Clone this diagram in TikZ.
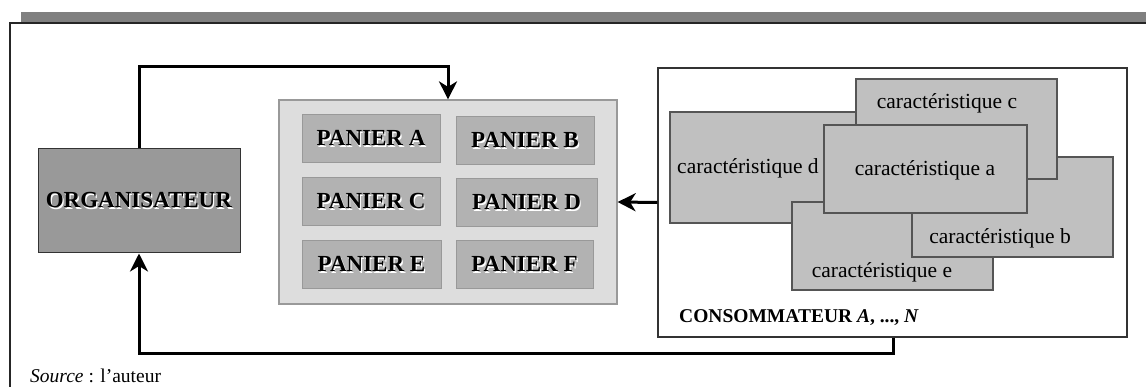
\documentclass[tikz,border=0pt]{standalone}
\usepackage{fontspec}
\setmainfont{Liberation Serif}
\usetikzlibrary{arrows.meta}
\definecolor{barcol}{HTML}{808080}
\definecolor{orgfill}{HTML}{999999}
\definecolor{grpfill}{HTML}{DDDDDD}
\definecolor{panfill}{HTML}{B2B2B2}
\definecolor{carfill}{HTML}{C0C0C0}
\definecolor{edgecol}{HTML}{555555}
\newcommand{\shadowtext}[1]{\makebox[0pt][l]{\hspace{1.2pt}\raisebox{-1.2pt}{\color{white}#1}}#1}
\tikzset{
  bigfont/.style={font=\fontsize{21.5}{24}\selectfont},
  boldfont/.style={font=\fontsize{23}{26}\selectfont},
  orgbox/.style={draw=black!80, line width=1pt, fill=orgfill, inner sep=0pt, boldfont},
  grpbox/.style={draw=black!40, line width=1.2pt, fill=grpfill, inner sep=0pt},
  panbox/.style={draw=black!40, line width=1pt, fill=panfill, inner sep=0pt, boldfont},
  carbox/.style={draw=edgecol, line width=1.3pt, fill=carfill, inner sep=0pt},
  cartext/.style={bigfont, inner sep=0pt},
  consbox/.style={draw=black!80, line width=1.2pt, fill=white, inner sep=0pt},
  conn/.style={line width=3pt, black, -{Stealth[length=18pt,width=18pt,inset=5.5pt]}},
}
\begin{document}
\begin{tikzpicture}[x=1pt,y=-1pt]
\useasboundingbox (0,0) rectangle (1146,387);
% frame
\fill[barcol] (21,12) rectangle (1150,23);
\draw[line width=1.2pt, black!85] (10,392) -- (10,23) -- (1150,23);
% organisateur
\node[orgbox, minimum width=202pt, minimum height=104pt] (org) at (139,201) {\textbf{\shadowtext{ORGANISATEUR}}};
% paniers
\node[grpbox, minimum width=338pt, minimum height=204pt] (group) at (448,202) {};
\node[panbox, minimum width=138pt, minimum height=48pt] (pA) at (371,139) {\textbf{\shadowtext{PANIER A}}};
\node[panbox, minimum width=138pt, minimum height=48pt] (pB) at (525,141) {\textbf{\shadowtext{PANIER B}}};
\node[panbox, minimum width=138pt, minimum height=48pt] (pC) at (371,202) {\textbf{\shadowtext{PANIER C}}};
\node[panbox, minimum width=141pt, minimum height=48pt] (pD) at (526.5,203) {\textbf{\shadowtext{PANIER D}}};
\node[panbox, minimum width=139pt, minimum height=48pt] (pE) at (371.5,265) {\textbf{\shadowtext{PANIER E}}};
\node[panbox, minimum width=137pt, minimum height=48pt] (pF) at (524.5,265) {\textbf{\shadowtext{PANIER F}}};
% consommateur
\node[consbox, minimum width=469pt, minimum height=269pt] (cons) at (892.5,202.5) {};
\node[carbox, minimum width=230pt, minimum height=111pt] (cd) at (785,167.5) {};
\node[cartext, anchor=west] (cdT) at (677,168) {caractéristique d};
\node[carbox, minimum width=201pt, minimum height=88pt] (ce) at (892.5,246) {};
\node[cartext] (ceT) at (882,272) {caractéristique e};
\node[carbox, minimum width=201pt, minimum height=100pt] (cb) at (1012.5,207) {};
\node[cartext] (cbT) at (1000,238) {caractéristique b};
\node[carbox, minimum width=201pt, minimum height=100pt] (cc) at (956.5,129) {};
\node[cartext] (ccT) at (947,103) {caractéristique c};
\node[carbox, minimum width=203pt, minimum height=88pt] (ca) at (925.5,169) {};
\node[cartext] (caT) at (925,170) {caractéristique a};
\node[anchor=base west, inner sep=0pt, font=\fontsize{19.5}{21}\selectfont] (consT) at (679,323) {\textbf{CONSOMMATEUR \textit{A}, ..., \textit{N}}};
% source
\node[anchor=base west, inner sep=0pt, font=\fontsize{19.5}{21}\selectfont] (src) at (30,382) {\textit{Source} : l'auteur};
% connectors
\coordinate (t1) at (139,67);
\coordinate (b1) at (893,353);
\draw[conn] (org.north) -- (t1) -| (group.north);
\draw[conn] (cons.west) -- (group.east);
\draw[conn] (cons.south -| b1) -- (b1) -| (org.south);
\end{tikzpicture}
\end{document}
